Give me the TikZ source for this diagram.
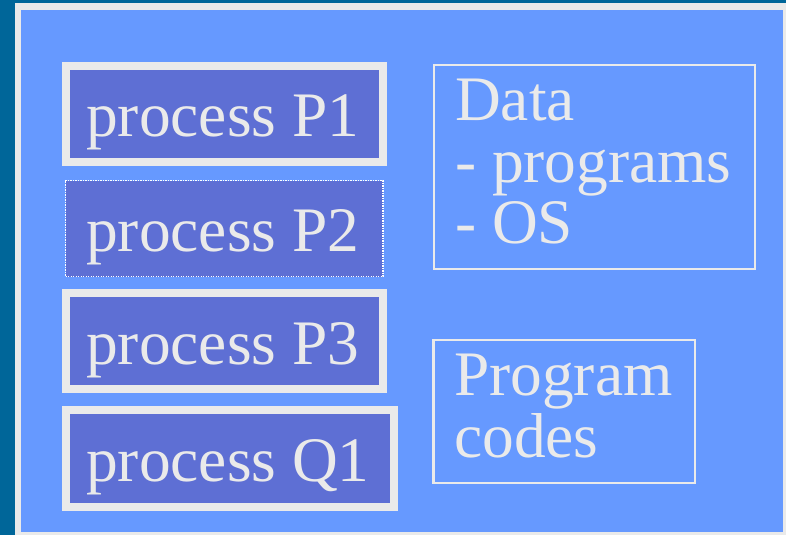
\documentclass[tikz,border=0pt]{standalone}
\usepackage{fontspec}
\setmainfont{Liberation Serif}
\definecolor{backdrop}{HTML}{006699}
\definecolor{panelblue}{HTML}{6699FF}
\definecolor{procfill}{HTML}{5E6FD4}
\definecolor{paleline}{HTML}{EAEAEA}
\tikzset{
  procbox/.style={draw=paleline, line width=8pt, fill=procfill, inner sep=0pt},
  dotbox/.style={draw=white, line width=1.3pt, dash pattern=on 1.2pt off 1.3pt, fill=procfill, inner sep=0pt},
  areabox/.style={draw=paleline, line width=2.2pt, inner sep=0pt},
  label/.style={text=paleline, inner sep=0pt, anchor=base west, font=\fontsize{63.4}{61.5}\selectfont}
}
\begin{document}
\begin{tikzpicture}[x=1pt,y=-1pt]
  % page background and light panel
  \fill[backdrop] (0,0) rectangle (786,535);
  \useasboundingbox (0,0) rectangle (786,535);
  \fill[paleline] (15,3) rectangle (786,535);
  \fill[panelblue] (21,10) rectangle (783,532);

  % process boxes
  \node[procbox, minimum width=317pt, minimum height=96pt] (p1) at (224.5,114) {};
  \node[dotbox, minimum width=317.5pt, minimum height=96pt] (p2) at (224.25,228.5) {};
  \node[procbox, minimum width=317pt, minimum height=96pt] (p3) at (224.5,341) {};
  \node[procbox, minimum width=328pt, minimum height=97pt] (q1) at (230,458.5) {};

  % memory areas
  \node[areabox, minimum width=321pt, minimum height=204pt] (data) at (594.5,166.75) {};
  \node[areabox, minimum width=261.5pt, minimum height=142.5pt] (code) at (564.25,411.5) {};

  % texts
  \node[label] (t1) at (86,136) {process P1};
  \node[label] (t2) at (86,251) {process P2};
  \node[label] (t3) at (86,364) {process P3};
  \node[label] (t4) at (86,481) {process Q1};

  \node[label] (d1) at (455,120) {Data};
  \node[label] (d2) at (455,182) {- programs};
  \node[label] (d3) at (455,243) {- OS};

  \node[label] (c1) at (454,395.5) {Program};
  \node[label] (c2) at (454,457) {codes};
\end{tikzpicture}
\end{document}
